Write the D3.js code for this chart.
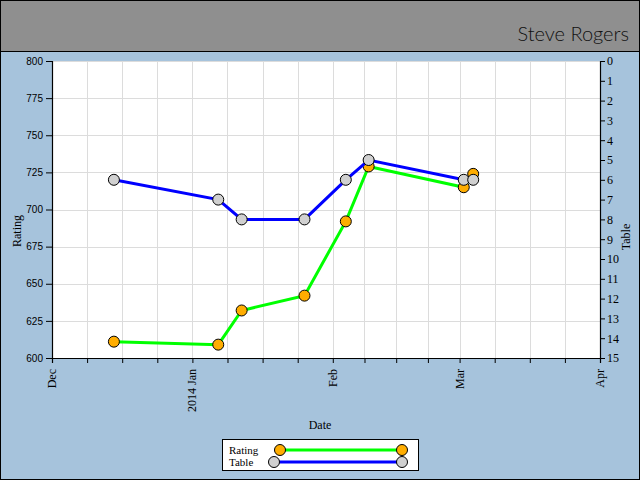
<!DOCTYPE html>
<html>
<head>
<meta charset="utf-8">
<script src="https://cdn.jsdelivr.net/npm/d3@7"></script>
<style>
  body { margin: 0; }
  svg { display: block; }
  .serif { font-family: "Liberation Serif", "DejaVu Serif", serif; font-size: 12px; fill: #000; }
  .sans { font-family: "Liberation Sans", "DejaVu Sans", sans-serif; font-size: 10px; fill: #000; }
</style>
</head>
<body>
<svg width="640" height="480"></svg>
<script>
// data
const dates = ['2013-12-14T16:00', '2014-01-06T17:00', '2014-01-11T21:00', '2014-01-25T18:00',
  '2014-02-03T21:00', '2014-02-08T22:00', '2014-03-01T22:00', '2014-03-04T00:00']
const rating = [611, 609, 632, 642, 692, 729, 715, 724]
const table = [6, 7, 8, 8, 6, 5, 6, 6]
const ratingTicks = [600, 625, 650, 675, 700, 725, 750, 775, 800]
const tableTicks = d3.range(0, 16)
const monthLabels = ['Dec', '2014 Jan', 'Feb', 'Mar', 'Apr']
const playerName = 'Steve Rogers'

const svg = d3.select('svg')
const W = 640, H = 480
const plot = { left: 52, right: 600, top: 61, bottom: 358 }

const x = d3.scaleTime()
  .domain([new Date(2013, 11, 1), new Date(2014, 3, 1)])
  .range([plot.left, plot.right])
const yRating = d3.scaleLinear().domain([600, 800]).range([plot.bottom, plot.top])
const yTable = d3.scaleLinear().domain([0, 15]).range([plot.top, plot.bottom])

// month ticks split into quarters, like the original
const months = d3.timeMonth.range(new Date(2013, 11, 1), new Date(2014, 3, 1))
const quarterTicks = []
months.forEach(m => {
  const next = d3.timeMonth.offset(m, 1)
  for (let k = 0; k < 4; k++) quarterTicks.push(new Date(+m + (next - m) * k / 4))
})
quarterTicks.push(new Date(2014, 3, 1))
const monthTicks = months.concat([new Date(2014, 3, 1)])

// backgrounds
svg.append('rect').attr('width', W).attr('height', H).attr('fill', '#a6c3dc')
svg.append('rect').attr('width', W).attr('height', 51).attr('fill', '#8f8f8f')
svg.append('line').attr('x1', 0).attr('x2', W).attr('y1', 51.5).attr('y2', 51.5).attr('stroke', '#000')
svg.append('rect').attr('x', 0.5).attr('y', 0.5).attr('width', W - 1).attr('height', H - 1)
  .attr('fill', 'none').attr('stroke', '#000')

svg.append('text')
  .attr('x', 629).attr('y', 41)
  .attr('text-anchor', 'end')
  .style('font-family', 'Lato, "Open Sans", sans-serif')
  .style('font-weight', 300)
  .style('font-size', '20px')
  .style('fill', '#111')
  .text(playerName)

svg.append('rect')
  .attr('x', plot.left).attr('y', plot.top)
  .attr('width', plot.right - plot.left).attr('height', plot.bottom - plot.top)
  .attr('fill', '#fff')

// grid
const grid = svg.append('g').attr('stroke', '#dcdcdc').attr('stroke-width', 1)
grid.selectAll('.gx').data(quarterTicks.slice(1, -1)).join('line')
  .attr('x1', d => Math.round(x(d)) + 0.5).attr('x2', d => Math.round(x(d)) + 0.5)
  .attr('y1', plot.top).attr('y2', plot.bottom)
grid.selectAll('.gy').data(ratingTicks.slice(1)).join('line')
  .attr('x1', plot.left).attr('x2', plot.right)
  .attr('y1', d => Math.round(yRating(d)) + 0.5).attr('y2', d => Math.round(yRating(d)) + 0.5)

// axes
const leftAxis = svg.append('g')
  .attr('transform', `translate(${plot.left},0)`)
  .call(d3.axisLeft(yRating).tickValues(ratingTicks).tickSize(6).tickPadding(3))
leftAxis.selectAll('text').attr('class', 'sans').attr('font-family', null).attr('font-size', null)

const rightAxis = svg.append('g')
  .attr('transform', `translate(${plot.right},0)`)
  .call(d3.axisRight(yTable).tickValues(tableTicks).tickSize(5).tickPadding(2))
rightAxis.selectAll('text').attr('class', 'serif').attr('font-family', null).attr('font-size', null)

svg.append('g')
  .attr('transform', `translate(0,${plot.bottom})`)
  .call(d3.axisBottom(x).tickValues(quarterTicks).tickSize(5).tickFormat(''))

svg.selectAll('.domain').attr('stroke', '#000').attr('stroke-width', 1.2)
svg.selectAll('.tick line').attr('stroke', '#000')

svg.append('g').selectAll('text').data(monthTicks).join('text')
  .attr('class', 'serif')
  .attr('transform', d => `translate(${x(d) + 4},369) rotate(-90)`)
  .attr('text-anchor', 'end')
  .text((d, i) => monthLabels[i])

// axis titles
svg.append('text').attr('class', 'serif')
  .attr('transform', 'translate(21,231) rotate(-90)')
  .attr('text-anchor', 'middle')
  .text('Rating')
svg.append('text').attr('class', 'serif')
  .attr('transform', 'translate(630,237) rotate(-90)')
  .attr('text-anchor', 'middle')
  .text('Table')
svg.append('text').attr('class', 'serif')
  .attr('x', 320).attr('y', 429)
  .attr('text-anchor', 'middle')
  .text('Date')

// series
const pts = dates.map((d, i) => ({ date: new Date(d), rating: rating[i], table: table[i] }))

const series = [
  { key: 'Rating', y: d => yRating(d.rating), line: '#00ff00', fill: '#ffad00' },
  { key: 'Table', y: d => yTable(d.table), line: '#0000ff', fill: '#d0d0d0' }
]

series.forEach(s => {
  svg.append('path')
    .datum(pts)
    .attr('fill', 'none')
    .attr('stroke', s.line)
    .attr('stroke-width', 3)
    .attr('d', d3.line().x(d => x(d.date)).y(s.y))
  svg.append('g').selectAll('circle').data(pts).join('circle')
    .attr('cx', d => x(d.date)).attr('cy', s.y)
    .attr('r', 5.5)
    .attr('fill', s.fill)
    .attr('stroke', '#000')
    .attr('stroke-width', 1)
})

// legend
const legend = svg.append('g')
legend.append('rect')
  .attr('x', 222.5).attr('y', 439.5).attr('width', 196).attr('height', 31)
  .attr('fill', '#fff').attr('stroke', '#000')
const legendRows = [
  { x1: 280, y: 450 },
  { x1: 274, y: 462 }
]
series.forEach((s, i) => {
  const r = legendRows[i]
  legend.append('text').attr('class', 'serif')
    .style('font-size', '11px')
    .attr('x', 229).attr('y', r.y + 4)
    .text(s.key)
  legend.append('line')
    .attr('x1', r.x1).attr('x2', 402).attr('y1', r.y).attr('y2', r.y)
    .attr('stroke', s.line).attr('stroke-width', 3)
  legend.selectAll(null).data([r.x1, 402]).join('circle')
    .attr('cx', d => d).attr('cy', r.y).attr('r', 5.5)
    .attr('fill', s.fill).attr('stroke', '#000')
})
</script>
</body>
</html>
